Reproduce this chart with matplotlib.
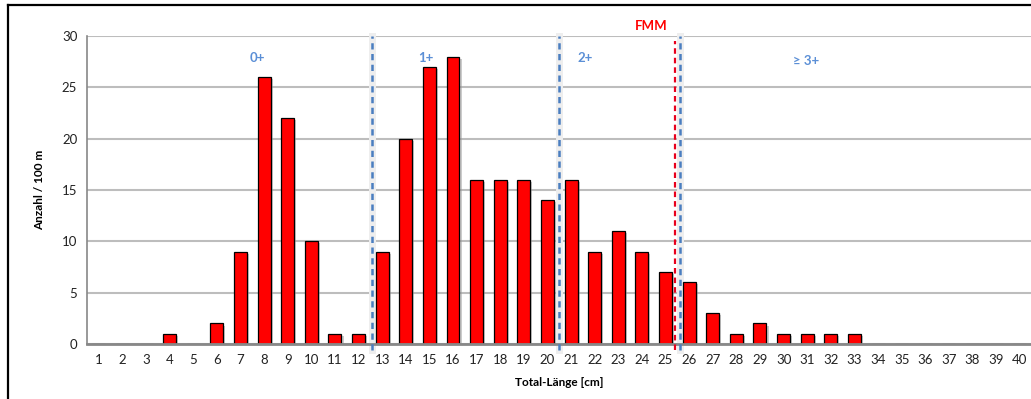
import numpy as np
import matplotlib
matplotlib.use('Agg')
import matplotlib.pyplot as plt
import matplotlib.patheffects as pe
from matplotlib.lines import Line2D

plt.rcParams['font.family'] = ['Lato', 'DejaVu Sans']

# Längenklassen und Anzahl / 100 m
laenge = list(range(1, 41))
anzahl = [0, 0, 0, 1, 0, 2, 9, 26, 22, 10,
          1, 1, 9, 20, 27, 28, 16, 16, 16, 14,
          16, 9, 11, 9, 7, 6, 3, 1, 2, 1,
          1, 1, 1, 0, 0, 0, 0, 0, 0, 0]

# Altersklassen-Grenzen und Beschriftungen
grenzen = [12.57, 20.5, 25.6]
fmm = 25.4
klassen = ['0+', '1+', '2+', '\u2265 3+']
klassen_x = [7.7, 14.85, 21.6, 30.95]
klassen_y = [27.9, 27.9, 27.9, 27.6]

fig = plt.figure(figsize=(10.31, 3.99), dpi=100)
ax = fig.add_axes([87/1031, 1-344/399, (1031.5-87)/1031, (344-36)/399])

ax.bar(laenge, anzahl, width=0.55, color='#ff0000', edgecolor='black', linewidth=0.9, zorder=3,
       path_effects=[pe.SimplePatchShadow(offset=(1.5, -1.5), shadow_rgbFace='#999999', alpha=0.5), pe.Normal()])

ax.set_xlim(0.5, 40.5)
ax.set_ylim(0, 30)
ax.set_xticks(laenge)
ax.set_yticks([0, 5, 10, 15, 20, 25, 30])
ax.tick_params(length=0, labelsize=9.5, colors='#222222', pad=7)
ax.yaxis.grid(True, color='#bdbdbd', linewidth=1.5, zorder=0)
for s in ['top', 'right']:
    ax.spines[s].set_visible(False)
ax.spines['left'].set_color('#888888')
ax.spines['left'].set_linewidth(1.2)
ax.spines['bottom'].set_color('#888888')
ax.spines['bottom'].set_linewidth(2)
ax.spines['bottom'].set_zorder(4)

for g in grenzen:
    ax.axvline(g, ymin=-0.02, ymax=1.0, color='#eeeeee', linewidth=5, zorder=2, clip_on=False)
    ax.axvline(g, ymin=-0.02, ymax=1.0, color='#4a7ec0', linewidth=1.8, linestyle=(0, (2.5, 1.8)), zorder=5, clip_on=False)
ax.axvline(fmm, ymin=-0.02, ymax=0.985, color='#e8001c', linewidth=1.6, linestyle=(0, (2.5, 1.8)), zorder=5, clip_on=False)
ax.text(fmm - 0.3, 30.35, 'FMM', color='#ff0000', fontsize=9.5, fontweight='bold', ha='right', va='bottom')

for t, x, y in zip(klassen, klassen_x, klassen_y):
    ax.text(x, y, t, color='#5b8fd6', fontsize=9.5, fontweight='bold', ha='center', va='center')

ax.set_xlabel('Total-Länge [cm]', fontsize=8.5, fontweight='bold', labelpad=8)
ax.set_ylabel('Anzahl / 100 m', fontsize=8.5, fontweight='bold', labelpad=12)

# Rahmen um das Diagramm
fig.add_artist(Line2D([8/1031, 8/1031], [0, 1-5/399], color='black', linewidth=1.6, transform=fig.transFigure))
fig.add_artist(Line2D([8/1031, 1], [1-5/399, 1-5/399], color='black', linewidth=1.6, transform=fig.transFigure))

fig.savefig('out.png', dpi=100)
